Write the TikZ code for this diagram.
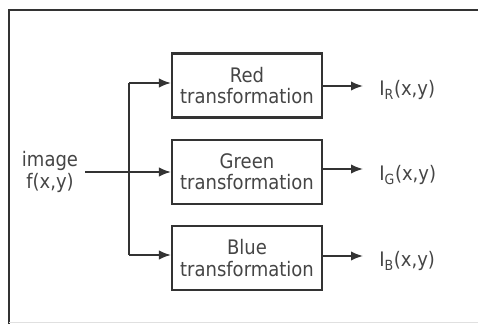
\documentclass[tikz,border=0pt]{standalone}
\usepackage{fontspec}
\setmainfont{DejaVu Sans}[FakeStretch=0.9]
\usetikzlibrary{arrows.meta}
\definecolor{ink}{HTML}{333333}
\definecolor{txt}{HTML}{454545}
\begin{document}
\begin{tikzpicture}[x=0.75pt,y=-0.75pt,
  block/.style={draw=ink,line width=1.6pt,minimum width=112.5pt,minimum height=48pt,
    inner sep=0pt,align=center,text=txt,font=\fontsize{15}{17}\selectfont},
  lbl/.style={text=txt,font=\fontsize{15}{17}\selectfont,inner sep=0pt,align=center},
  conn/.style={draw=ink,line width=1.2pt},
  arr/.style={conn,-{Latex[length=9pt,width=7pt]}}]
  \useasboundingbox (0,0) rectangle (478,324);
  % frame
  \draw[ink,line width=1.5pt] (9,324) -- (9,10) -- (478,10);
  \draw[black!12,line width=1pt] (9,322.5) -- (478,322.5);
  % blocks
  \node[block] (red)   at (247,85.5)  {Red\\[-1pt]transformation};
  \node[block] (green) at (247,172)   {Green\\[-1pt]transformation};
  \node[block] (blue)  at (247,258)   {Blue\\[-1pt]transformation};
  % input
  \node[lbl] (img) at (50,172) {image\\[-1pt]f(x,y)};
  \coordinate (top) at (129,83);
  \coordinate (bot) at (129,255);
  \draw[conn] (top) -- (bot);
  \draw[arr] (img.east)++(7,0) -- (green.west);
  \draw[arr] (top) -- (red.west |- top);
  \draw[arr] (bot) -- (blue.west |- bot);
  % outputs
  \node[lbl,anchor=west] (ir) at (379,90)  {I\textsubscript{R}(x,y)};
  \node[lbl,anchor=west] (ig) at (379,175) {I\textsubscript{G}(x,y)};
  \node[lbl,anchor=west] (ib) at (379,261) {I\textsubscript{B}(x,y)};
  \draw[arr] (red.east |- 0,86) -- (363,86);
  \draw[arr] (green.east |- 0,169) -- (363,169);
  \draw[arr] (blue.east |- 0,256) -- (363,256);
\end{tikzpicture}
\end{document}
